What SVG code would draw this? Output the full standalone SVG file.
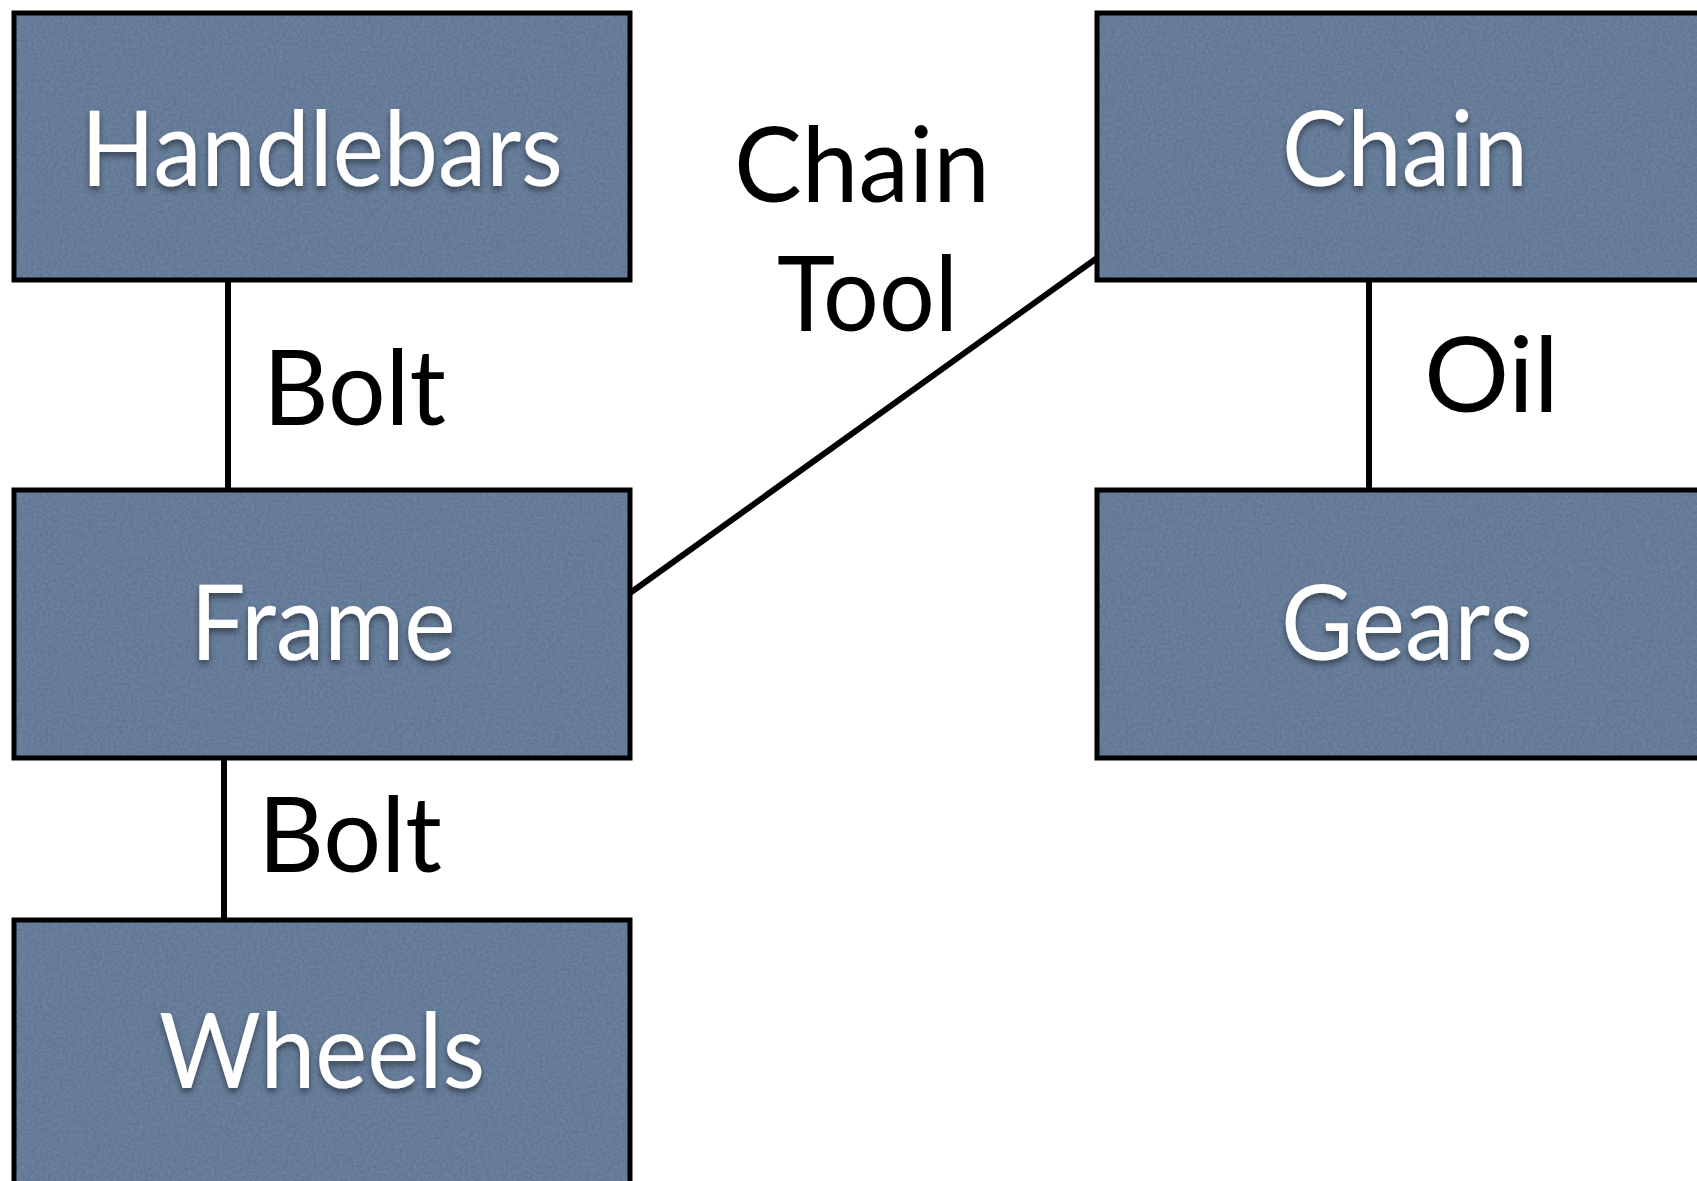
<svg xmlns="http://www.w3.org/2000/svg" width="1697" height="1181" viewBox="0 0 1697 1181">
  <defs>
    <filter id="grain" x="0" y="0" width="100%" height="100%">
      <feTurbulence type="fractalNoise" baseFrequency="0.35" numOctaves="3" seed="4" result="noise"/>
      <feColorMatrix in="noise" type="matrix" values="0 0 0 0 0.75  0 0 0 0 0.82  0 0 0 0 0.9  0 0 0 0.12 0" result="tint"/>
      <feComposite in="tint" in2="SourceGraphic" operator="atop"/>
    </filter>
    <filter id="shadow" x="-10%" y="-20%" width="120%" height="150%">
      <feDropShadow dx="0" dy="4" stdDeviation="3" flood-color="#000" flood-opacity="0.45"/>
    </filter>
  </defs>
  <style>
    .fill { fill: #567090; }
    .frame { fill: none; stroke: #000; stroke-width: 5; }
    .nodetext { font-family: Lato, "Open Sans", "Liberation Sans", sans-serif; font-size: 104px; fill: #fff; text-anchor: middle; }
    .label { font-family: Lato, "Open Sans", "Liberation Sans", sans-serif; font-size: 104px; fill: #000; }
    .conn { stroke: #000; stroke-width: 6; fill: none; }
  </style>
  <rect width="1697" height="1181" fill="#fff"/>
  <g id="connectors">
    <line class="conn" x1="228" y1="280" x2="228" y2="490"/>
    <line class="conn" x1="224" y1="758" x2="224" y2="920"/>
    <line class="conn" x1="1369" y1="280" x2="1369" y2="490"/>
    <line class="conn" x1="630" y1="593" x2="1097" y2="258"/>
    <text class="label" x="263" y="425" textLength="183" lengthAdjust="spacingAndGlyphs">Bolt</text>
    <text class="label" x="258" y="872" textLength="184" lengthAdjust="spacingAndGlyphs">Bolt</text>
    <text class="label" x="1424" y="412" textLength="135" lengthAdjust="spacingAndGlyphs">Oil</text>
    <text class="label" x="734" y="202" textLength="256" lengthAdjust="spacingAndGlyphs">Chain</text>
    <text class="label" x="777" y="331" textLength="181" lengthAdjust="spacingAndGlyphs">Tool</text>
  </g>
  <g id="node-handlebars">
    <rect class="fill" x="14" y="13" width="616" height="267" filter="url(#grain)"/>
    <rect class="frame" x="14" y="13" width="616" height="267"/>
    <text class="nodetext" x="322" y="186" textLength="482" lengthAdjust="spacingAndGlyphs" filter="url(#shadow)">Handlebars</text>
  </g>
  <g id="node-frame">
    <rect class="fill" x="14" y="490" width="616" height="268" filter="url(#grain)"/>
    <rect class="frame" x="14" y="490" width="616" height="268"/>
    <text class="nodetext" x="323" y="660" textLength="265" lengthAdjust="spacingAndGlyphs" filter="url(#shadow)">Frame</text>
  </g>
  <g id="node-wheels">
    <rect class="fill" x="14" y="920" width="616" height="268" filter="url(#grain)"/>
    <rect class="frame" x="14" y="920" width="616" height="268"/>
    <text class="nodetext" x="322" y="1088" textLength="326" lengthAdjust="spacingAndGlyphs" filter="url(#shadow)">Wheels</text>
  </g>
  <g id="node-chain">
    <rect class="fill" x="1097" y="13" width="616" height="267" filter="url(#grain)"/>
    <rect class="frame" x="1097" y="13" width="616" height="267"/>
    <text class="nodetext" x="1405" y="186" textLength="246" lengthAdjust="spacingAndGlyphs" filter="url(#shadow)">Chain</text>
  </g>
  <g id="node-gears">
    <rect class="fill" x="1097" y="490" width="616" height="268" filter="url(#grain)"/>
    <rect class="frame" x="1097" y="490" width="616" height="268"/>
    <text class="nodetext" x="1407" y="660" textLength="252" lengthAdjust="spacingAndGlyphs" filter="url(#shadow)">Gears</text>
  </g>
</svg>
